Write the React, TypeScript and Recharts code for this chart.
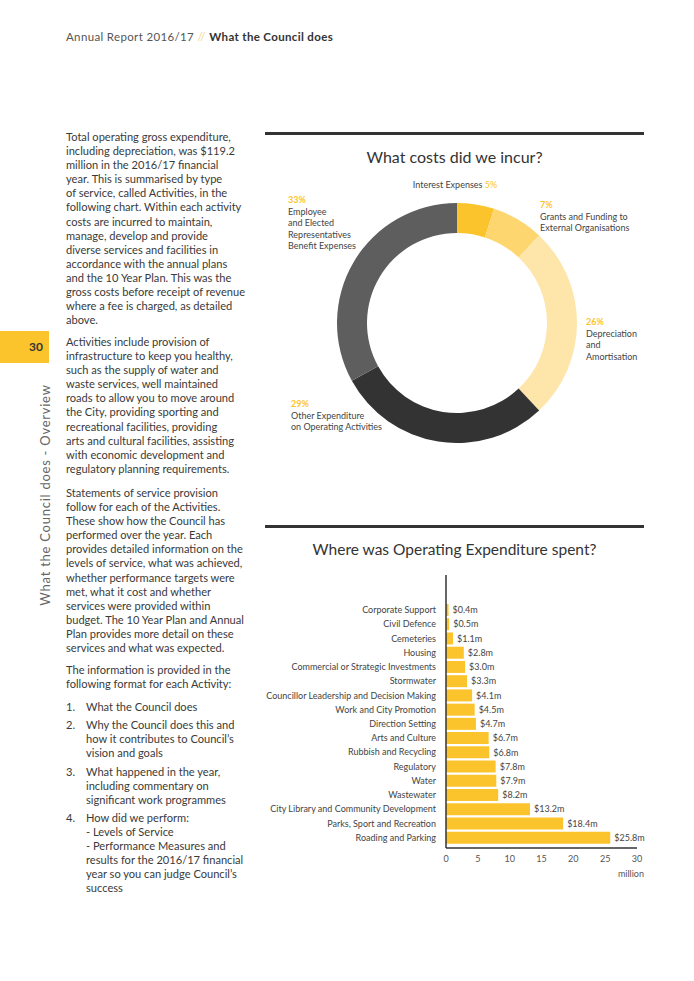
import React from "react";
import {
  Bar,
  BarChart,
  Cell,
  LabelList,
  Pie,
  PieChart,
  XAxis,
  YAxis,
} from "recharts";

const pieNames = [
  "Interest Expenses",
  "Grants and Funding to External Organisations",
  "Depreciation and Amortisation",
  "Other Expenditure on Operating Activities",
  "Employee and Elected Representatives Benefit Expenses",
];
const pieValues = [5, 7, 26, 29, 33];
const pieColors = ["#fcc42c", "#fdd670", "#fee6aa", "#333333", "#5e5e5e"];

const activityNames = [
  "Corporate Support",
  "Civil Defence",
  "Cemeteries",
  "Housing",
  "Commercial or Strategic Investments",
  "Stormwater",
  "Councillor Leadership and Decision Making",
  "Work and City Promotion",
  "Direction Setting",
  "Arts and Culture",
  "Rubbish and Recycling",
  "Regulatory",
  "Water",
  "Wastewater",
  "City Library and Community Development",
  "Parks, Sport and Recreation",
  "Roading and Parking",
];
const activityValues = [
  0.4, 0.5, 1.1, 2.8, 3.0, 3.3, 4.1, 4.5, 4.7, 6.7, 6.8, 7.8, 7.9, 8.2, 13.2,
  18.4, 25.8,
];
const xTicks = [0, 5, 10, 15, 20, 25, 30];

const pieData = pieNames.map((name, i) => ({ name, value: pieValues[i] }));
const barData = activityNames.map((name, i) => ({
  name,
  value: activityValues[i],
}));

const FONT = "Lato, 'Open Sans', sans-serif";
const YELLOW = "#fcc42c";
const TEXT = "#3a3a3a";

type LinesProps = {
  x: number;
  y: number;
  lines: string[];
  lh?: number;
  size?: number;
  color?: string;
};

// y is the centre of the first line
const Lines = ({ x, y, lines, lh = 14.1, size = 11.1, color = TEXT }: LinesProps) => (
  <div
    style={{
      position: "absolute",
      left: x,
      top: y - lh / 2,
      fontSize: size,
      lineHeight: `${lh}px`,
      color,
      whiteSpace: "nowrap",
    }}
  >
    {lines.map((l, i) => (
      <div key={i}>{l}</div>
    ))}
  </div>
);

const para1 = [
  "Total operating gross expenditure,",
  "including depreciation, was $119.2",
  "million in the 2016/17 financial",
  "year. This is summarised by type",
  "of service, called Activities, in the",
  "following chart. Within each activity",
  "costs are incurred to maintain,",
  "manage, develop and provide",
  "diverse services and facilities in",
  "accordance with the annual plans",
  "and the 10 Year Plan. This was the",
  "gross costs before receipt of revenue",
  "where a fee is charged, as detailed",
  "above.",
];
const para2 = [
  "Activities include provision of",
  "infrastructure to keep you healthy,",
  "such as the supply of water and",
  "waste services, well maintained",
  "roads to allow you to move around",
  "the City, providing sporting and",
  "recreational facilities, providing",
  "arts and cultural facilities, assisting",
  "with economic development and",
  "regulatory planning requirements.",
];
const para3 = [
  "Statements of service provision",
  "follow for each of the Activities.",
  "These show how the Council has",
  "performed over the year.  Each",
  "provides detailed information on the",
  "levels of service, what was achieved,",
  "whether performance targets were",
  "met, what it cost and whether",
  "services were provided within",
  "budget. The 10 Year Plan and Annual",
  "Plan provides more detail on these",
  "services and what was expected.",
];
const para4 = [
  "The information is provided in the",
  "following format for each Activity:",
];

const listItems = [
  { n: "1.", y: 707, lines: ["What the Council does"] },
  {
    n: "2.",
    y: 725,
    lines: [
      "Why the Council does this and",
      "how it contributes to Council\u2019s",
      "vision and goals",
    ],
  },
  {
    n: "3.",
    y: 772,
    lines: [
      "What happened in the year,",
      "including commentary on",
      "significant work programmes",
    ],
  },
  {
    n: "4.",
    y: 818,
    lines: [
      "How did we perform:",
      "- Levels of Service",
      "- Performance Measures and",
      "results for the 2016/17 financial",
      "year so you can judge Council\u2019s",
      "success",
    ],
  },
];

const PieLabel = ({
  x,
  y,
  pct,
  lines,
}: {
  x: number;
  y: number;
  pct: string;
  lines: string[];
}) => (
  <div
    style={{
      position: "absolute",
      left: x,
      top: y - 6,
      fontSize: 9,
      lineHeight: "11.5px",
      color: "#444",
      whiteSpace: "nowrap",
    }}
  >
    <div style={{ color: YELLOW, fontWeight: 700 }}>{pct}</div>
    {lines.map((l, i) => (
      <div key={i}>{l}</div>
    ))}
  </div>
);

// single-line category labels, right aligned against the axis
const CategoryTick = (props: any) => {
  const { x, y, payload } = props;
  return (
    <text
      x={x}
      y={y}
      dy={3}
      textAnchor="end"
      fontSize={9}
      fill="#444"
      fontFamily={FONT}
    >
      {payload.value}
    </text>
  );
};

const App = () => {
  return (
    <div
      style={{
        position: "absolute",
        left: 0,
        top: 0,
        width: 694,
        height: 981,
        background: "#fff",
        fontFamily: FONT,
        color: TEXT,
        overflow: "hidden",
      }}
    >
      {/* header */}
      <div
        style={{
          position: "absolute",
          left: 66,
          top: 30,
          fontSize: 11.5,
          letterSpacing: 0.35,
          color: "#555",
          whiteSpace: "nowrap",
        }}
      >
        Annual Report 2016/17 <span style={{ color: "#f5d98a" }}>//</span>{" "}
        <b style={{ color: "#333" }}>What the Council does</b>
      </div>

      {/* side tab */}
      <div
        style={{
          position: "absolute",
          left: 0,
          top: 331,
          width: 49,
          height: 32,
          background: YELLOW,
        }}
      />
      <div
        style={{
          position: "absolute",
          left: 29,
          top: 339,
          fontSize: 12,
          fontWeight: 700,
          color: "#333",
        }}
      >
        30
      </div>
      <div
        style={{
          position: "absolute",
          left: 45,
          top: 495,
          transform: "translate(-50%, -50%) rotate(-90deg)",
          fontSize: 13,
          letterSpacing: 0.75,
          color: "#666",
          whiteSpace: "nowrap",
        }}
      >
        What the Council does - Overview
      </div>

      {/* left column */}
      <Lines x={66} y={137} lines={para1} />
      <Lines x={66} y={342} lines={para2} />
      <Lines x={66} y={493} lines={para3} />
      <Lines x={66} y={670} lines={para4} />
      {listItems.map((it) => (
        <React.Fragment key={it.n}>
          <Lines x={66} y={it.y} lines={[it.n]} />
          <Lines x={86} y={it.y} lines={it.lines} />
        </React.Fragment>
      ))}

      {/* donut section */}
      <div
        style={{
          position: "absolute",
          left: 265,
          top: 132,
          width: 379,
          height: 3,
          background: "#333",
        }}
      />
      <div
        style={{
          position: "absolute",
          left: 265,
          width: 379,
          top: 147,
          textAlign: "center",
          fontSize: 16,
          color: "#333",
        }}
      >
        What costs did we incur?
      </div>
      <div
        style={{
          position: "absolute",
          left: 265,
          width: 380,
          top: 179,
          textAlign: "center",
          fontSize: 9,
          color: "#444",
        }}
      >
        Interest Expenses <span style={{ color: YELLOW }}>5%</span>
      </div>
      <div style={{ position: "absolute", left: 337, top: 203 }}>
        <PieChart width={240} height={240} margin={{ top: 0, right: 0, bottom: 0, left: 0 }}>
          <Pie
            data={pieData}
            dataKey="value"
            nameKey="name"
            cx={120}
            cy={120}
            innerRadius={90}
            outerRadius={120}
            startAngle={90}
            endAngle={-270}
            stroke="none"
            isAnimationActive={false}
          >
            {pieData.map((d, i) => (
              <Cell key={d.name} fill={pieColors[i]} />
            ))}
          </Pie>
        </PieChart>
      </div>
      <PieLabel
        x={288}
        y={200}
        pct="33%"
        lines={["Employee", "and Elected", "Representatives", "Benefit Expenses"]}
      />
      <PieLabel
        x={540}
        y={205}
        pct="7%"
        lines={["Grants and Funding to", "External Organisations"]}
      />
      <PieLabel
        x={586}
        y={322}
        pct="26%"
        lines={["Depreciation", "and", "Amortisation"]}
      />
      <PieLabel
        x={291}
        y={404}
        pct="29%"
        lines={["Other Expenditure", "on Operating Activities"]}
      />

      {/* bar section */}
      <div
        style={{
          position: "absolute",
          left: 265,
          top: 525,
          width: 379,
          height: 3,
          background: "#333",
        }}
      />
      <div
        style={{
          position: "absolute",
          left: 265,
          width: 379,
          top: 540,
          textAlign: "center",
          fontSize: 15.5,
          color: "#333",
        }}
      >
        Where was Operating Expenditure spent?
      </div>
      <div style={{ position: "absolute", left: 260, top: 560 }}>
        <BarChart
          width={390}
          height={320}
          data={barData}
          layout="vertical"
          margin={{ top: 15, right: 13, bottom: 2, left: 0 }}
          barSize={12}
        >
          <XAxis
            type="number"
            domain={[0, 30]}
            ticks={xTicks}
            height={30}
            tickLine={false}
            axisLine={{ stroke: "#333", strokeWidth: 1.5 }}
            tick={{ fontSize: 9, fill: "#555", fontFamily: FONT }}
          />
          <YAxis
            type="category"
            dataKey="name"
            width={186}
            interval={0}
            tickLine={false}
            tickMargin={4}
            padding={{ top: 28, bottom: 3 }}
            axisLine={{ stroke: "#333", strokeWidth: 1.5 }}
            tick={<CategoryTick />}
          />
          <Bar dataKey="value" fill={YELLOW} isAnimationActive={false}>
            <LabelList
              dataKey="value"
              position="right"
              offset={4}
              fontSize={9}
              fill="#444"
              fontFamily={FONT}
              formatter={(v: number) => `$${Number(v).toFixed(1)}m`}
            />
          </Bar>
        </BarChart>
      </div>
      <div
        style={{
          position: "absolute",
          left: 600,
          width: 44,
          top: 868,
          textAlign: "right",
          fontSize: 9,
          color: "#555",
        }}
      >
        million
      </div>
    </div>
  );
};

export default App;
